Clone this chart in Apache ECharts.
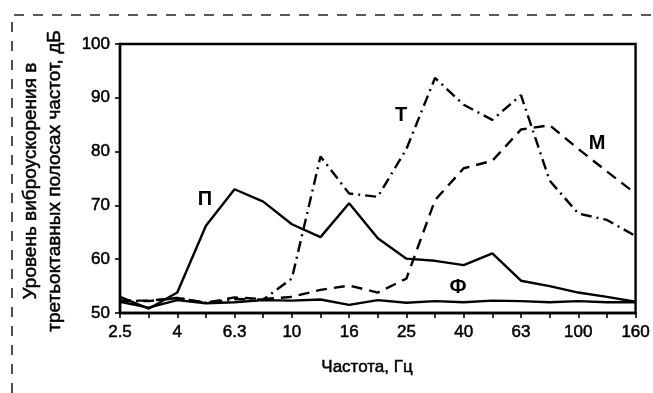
<!DOCTYPE html>
<html>
<head>
<meta charset="utf-8">
<script src="https://cdn.jsdelivr.net/npm/echarts@6/dist/echarts.min.js"></script>
<style>
  html, body { margin: 0; padding: 0; background: #fff; }
  #chart { width: 653px; height: 393px; }
</style>
</head>
<body>
<div id="chart"></div>
<script>
// Third-octave band centre frequencies, Hz
const bands = ['2.5', '3.15', '4', '5', '6.3', '8', '10', '12.5', '16', '20',
               '25', '31.5', '40', '50', '63', '80', '100', '125', '160'];

// Vibration acceleration levels, dB
const seriesP = [53.0, 50.8, 53.8, 66.2, 73.0, 70.7, 66.5, 64.1, 70.4, 63.9,
                 60.1, 59.7, 58.9, 61.1, 56.0, 55.0, 53.8, 53.0, 52.1];
const seriesF = [52.1, 51.0, 52.4, 51.8, 52.0, 52.4, 52.3, 52.5, 51.5, 52.4,
                 51.9, 52.2, 52.0, 52.3, 52.2, 52.0, 52.2, 52.0, 52.0];
const seriesM = [52.3, 52.3, 52.8, 51.9, 52.9, 52.6, 53.0, 54.3, 55.1, 53.8,
                 56.4, 71.0, 76.9, 78.3, 84.1, 84.9, 80.5, 76.3, 72.2];
const seriesT = [52.3, 52.2, 52.8, 51.9, 52.6, 52.5, 56.4, 79.1, 72.2, 71.6,
                 80.5, 93.7, 88.7, 85.9, 90.5, 74.6, 68.5, 67.3, 64.3];

const yTicks = { min: 50, max: 100, step: 10 };

const FONT = '"Liberation Sans", Arial, sans-serif';
const INK = '#000';
// a thin outline in the text colour gives the lettering a slightly heavier weight
const heavy = { textBorderColor: INK, textBorderWidth: 0.5 };

const chart = echarts.init(document.getElementById('chart'), null, { renderer: 'canvas' });

function line(name, data, type) {
  return {
    name: name,
    type: 'line',
    data: data,
    symbol: 'none',
    smooth: false,
    lineStyle: { color: INK, width: 2.4, type: type, cap: 'butt' },
    z: 3
  };
}

chart.setOption({
  animation: false,
  backgroundColor: '#fff',
  grid: {
    left: 120, right: 16, top: 44, bottom: 80,
    show: true, borderColor: INK, borderWidth: 2.4, backgroundColor: 'transparent'
  },
  xAxis: {
    type: 'category',
    data: bands,
    boundaryGap: false,
    axisLine: { lineStyle: { color: INK, width: 2.4 } },
    axisTick: { show: true, interval: 0, length: 5, lineStyle: { color: INK, width: 1.6 } },
    axisLabel: Object.assign({ interval: 1, color: INK, fontFamily: FONT, fontSize: 17, margin: 11 }, heavy),
    splitLine: { show: false }
  },
  yAxis: {
    type: 'value',
    min: yTicks.min, max: yTicks.max, interval: yTicks.step,
    axisLine: { show: true, lineStyle: { color: INK, width: 2.4 } },
    axisTick: { show: true, length: 5, lineStyle: { color: INK, width: 1.6 } },
    axisLabel: Object.assign({ color: INK, fontFamily: FONT, fontSize: 17, margin: 10 }, heavy),
    splitLine: { show: false }
  },
  series: [
    line('Ф', seriesF, 'solid'),
    line('П', seriesP, 'solid'),
    line('М', seriesM, [11, 7]),
    line('Т', seriesT, [11, 5, 2, 5])
  ],
  graphic: [
    // dashed frame around the figure
    {
      type: 'polyline',
      shape: { points: [[12, 393], [12, 15], [660, 15]] },
      style: { stroke: '#222', lineWidth: 1.6, lineDash: [10, 9], fill: null }
    },
    // axis titles
    {
      type: 'text',
      x: 43, y: 181,
      rotation: Math.PI / 2,
      style: {
        text: 'Уровень виброускорения в\nтретьоктавных полосах частот, дБ',
        font: '19px ' + FONT,
        fill: INK, stroke: INK, lineWidth: 0.5,
        align: 'center',
        verticalAlign: 'middle',
        lineHeight: 24
      }
    },
    {
      type: 'text',
      x: 367, y: 367,
      style: { text: 'Частота, Гц', font: '17px ' + FONT, fill: INK, stroke: INK, lineWidth: 0.5, align: 'center', verticalAlign: 'middle' }
    },
    // curve labels
    { type: 'text', x: 205, y: 199, style: { text: 'П', font: 'bold 20px ' + FONT, fill: INK, align: 'center', verticalAlign: 'middle' } },
    { type: 'text', x: 401, y: 115, style: { text: 'Т', font: 'bold 20px ' + FONT, fill: INK, align: 'center', verticalAlign: 'middle' } },
    { type: 'text', x: 597, y: 143, style: { text: 'М', font: 'bold 20px ' + FONT, fill: INK, align: 'center', verticalAlign: 'middle' } },
    { type: 'text', x: 458, y: 287, style: { text: 'Ф', font: 'bold 20px ' + FONT, fill: INK, align: 'center', verticalAlign: 'middle' } }
  ]
});
</script>
</body>
</html>
